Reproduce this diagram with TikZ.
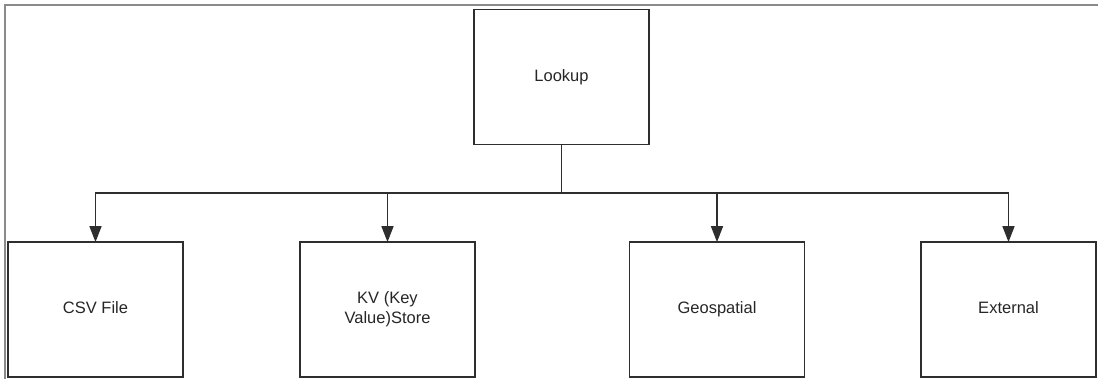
\documentclass[tikz,border=0pt]{standalone}
\usepackage{fontspec}
\setmainfont{Liberation Sans}
\usetikzlibrary{arrows.meta}
\definecolor{edge}{HTML}{2E2E2E}
\definecolor{framegray}{HTML}{8A8A8A}
\begin{document}
\begin{tikzpicture}[x=1pt,y=-1pt,
  box/.style={draw=edge, line width=1.8pt, minimum width=175pt, minimum height=135pt, inner sep=0pt, align=center, text=black!85, font=\fontsize{16.5}{20}\selectfont},
  one/.style={text height=12pt, text depth=3.5pt},
  conn/.style={draw=edge, line width=1.6pt},
  arr/.style={conn, -{Triangle[length=16pt,width=12pt]}, shorten >=-1pt}]
\useasboundingbox (0,0) rectangle (1098,379);
\draw[framegray, line width=2pt] (4.5,379) -- (4.5,5) -- (1098,5);
\node[box,one] (lookup) at (561.5,77) {Lookup};
\node[box,one] (csv) at (95.5,309.5) {CSV File};
\node[box] (kv) at (387.5,309.5) {KV (Key\\Value)Store};
\node[box,one] (geo) at (717,309.5) {Geospatial};
\node[box,one] (ext) at (1008.5,309.5) {External};
\coordinate (hub) at (561.5,193);
\draw[conn] (lookup.south) -- (hub);
\draw[arr] (hub) -| (csv.north);
\draw[arr] (hub) -| (kv.north);
\draw[arr] (hub) -| (geo.north);
\draw[arr] (hub) -| (ext.north);
\end{tikzpicture}
\end{document}
